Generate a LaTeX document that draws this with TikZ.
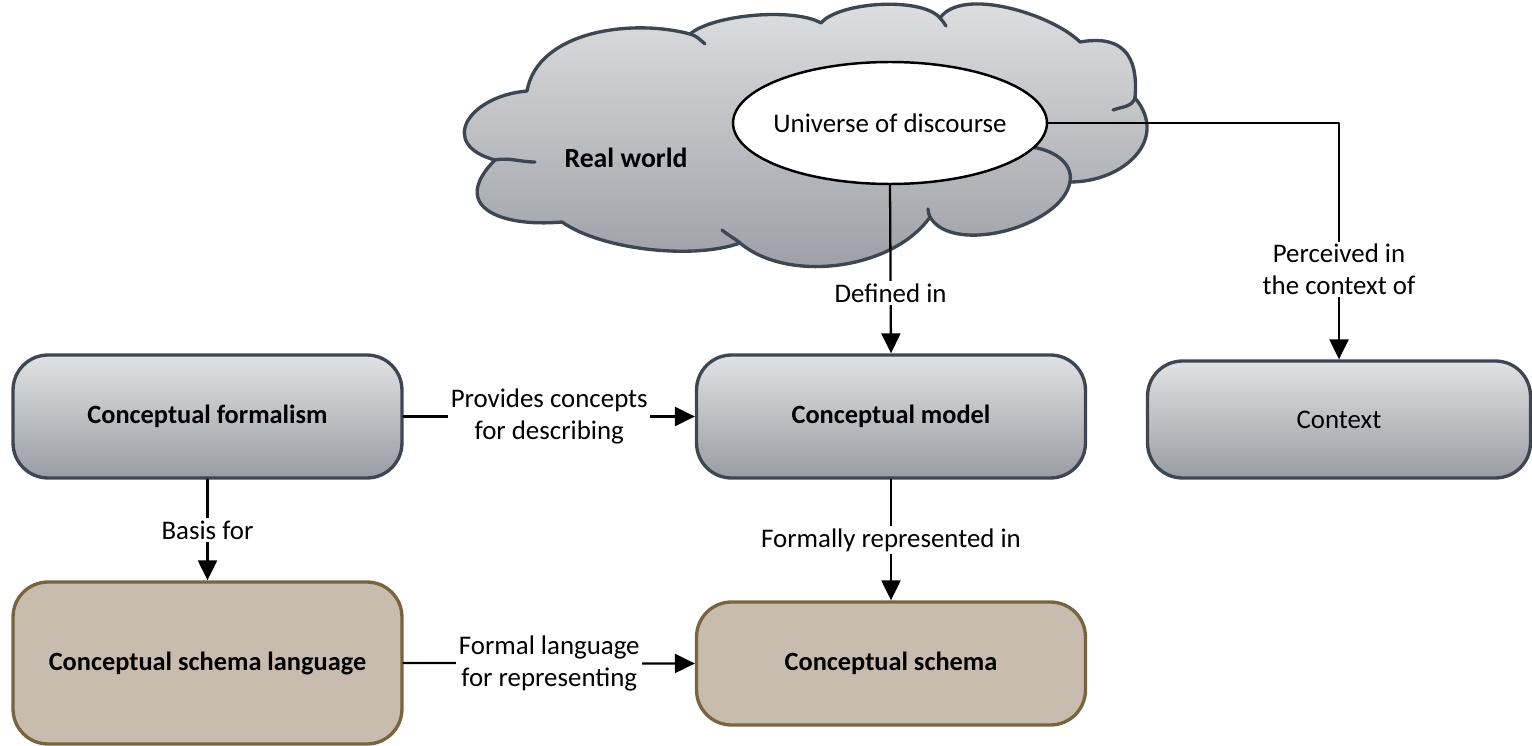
\documentclass[tikz,border=0pt]{standalone}
\usepackage{fontspec}
\setmainfont{Carlito}
\usetikzlibrary{arrows.meta}
\usetikzlibrary{shapes.geometric}
\usetikzlibrary{positioning}
\definecolor{boxline}{HTML}{3D4651}
\definecolor{greytop}{HTML}{E1E2E4}
\definecolor{greybot}{HTML}{999CA3}
\definecolor{brownfill}{HTML}{C7BCAD}
\definecolor{brownline}{HTML}{7A6440}

\begin{document}
\begin{tikzpicture}[line cap=round,line join=round,>={Triangle[length=0.4cm,width=0.38cm]},x=0.02cm,y=0.02cm,
  font=\fontsize{15.3}{18}\selectfont,
  greybox/.style={draw=boxline,line width=1.9pt,rounded corners=0.7cm,top color=greytop,bottom color=greybot,minimum width=7.78cm,minimum height=2.46cm,font=\fontsize{15}{18}\selectfont\bfseries},
  brownbox/.style={draw=brownline,line width=1.9pt,rounded corners=0.7cm,fill=brownfill,minimum width=7.78cm,minimum height=2.46cm,font=\fontsize{15}{18}\selectfont\bfseries},
  cloudedge/.style={draw=boxline,line width=1.9pt},
  conn/.style={->,line width=1.3pt},
  lbl/.style={fill=white,inner sep=1.5pt,align=center}]
\useasboundingbox (0,0) rectangle (1532,745);
\draw[cloudedge,top color=greytop,bottom color=greybot] (495,585) to[out=165,in=185,looseness=2] (527,654)
  to[out=80,in=165,looseness=0.9] (690,711)
  to[out=40,in=150,looseness=0.6] (821,722)
  to[out=50,in=130,looseness=0.6] (940,727)
  to[out=55,in=135,looseness=0.7] (1080,703)
  to[out=10,in=85,looseness=1.4] (1135,647)
  to[out=-50,in=0,looseness=1.3] (1070,563)
  to[out=260,in=300,looseness=0.8] (930,528)
  to[out=235,in=320,looseness=0.85] (740,502)
  to[out=200,in=325,looseness=0.7] (562,523)
  to[out=185,in=225,looseness=1.8] (495,585) -- cycle;
\draw[cloudedge] (495,585) to[out=10,in=180] (535,583);
\draw[cloudedge] (690,711) to[out=-15,in=140] (705,701);
\draw[cloudedge] (940,727) to[out=-50,in=120] (946,719);
\draw[cloudedge] (1135,647) to[out=250,in=20] (1113,635);
\draw[cloudedge] (930,528) to[out=120,in=-80] (928,536);
\draw[cloudedge] (740,502) to[out=140,in=-40] (722,515);
\draw[cloudedge] (1030,598) to[out=-5,in=80] (1070,563);
\node[font=\fontsize{15.8}{18}\selectfont\bfseries] (real) at (626,587) {Real world};
\node[ellipse,draw,line width=1.4pt,fill=white,minimum width=6.28cm,minimum height=2.44cm,inner xsep=-4pt,inner ysep=0pt] (uod) at (890,622) {Universe of discourse};
\node[greybox] (formalism) at (207.5,328.5) {Conceptual formalism};
\node[greybox] (model) at (891,328.5) {Conceptual model};
\node[greybox,minimum width=7.66cm,minimum height=2.34cm,font=\fontsize{15.3}{18}\selectfont] (context) at (1339,325.5) {Context};
\node[brownbox,minimum height=3.24cm] (language) at (207.5,82) {Conceptual schema language};
\node[brownbox] (schema) at (891,81.5) {Conceptual schema};
\draw[conn] (uod.south) -- node[lbl,pos=0.64] {Defined in} (model.north);
\draw[conn] (uod.east) -| node[lbl,pos=0.81] {Perceived in\\the context of} (context.north);
\draw[conn] (formalism.east) -- node[lbl] {Provides concepts\\for describing} (model.west);
\draw[conn] (formalism.south) -- node[lbl] {Basis for} (language.north);
\draw[conn] (model.south) -- node[lbl] {Formally represented in} (schema.north);
\draw[conn] (language.east) -- node[lbl] {Formal language\\for representing} (schema.west);
\end{tikzpicture}
\end{document}
